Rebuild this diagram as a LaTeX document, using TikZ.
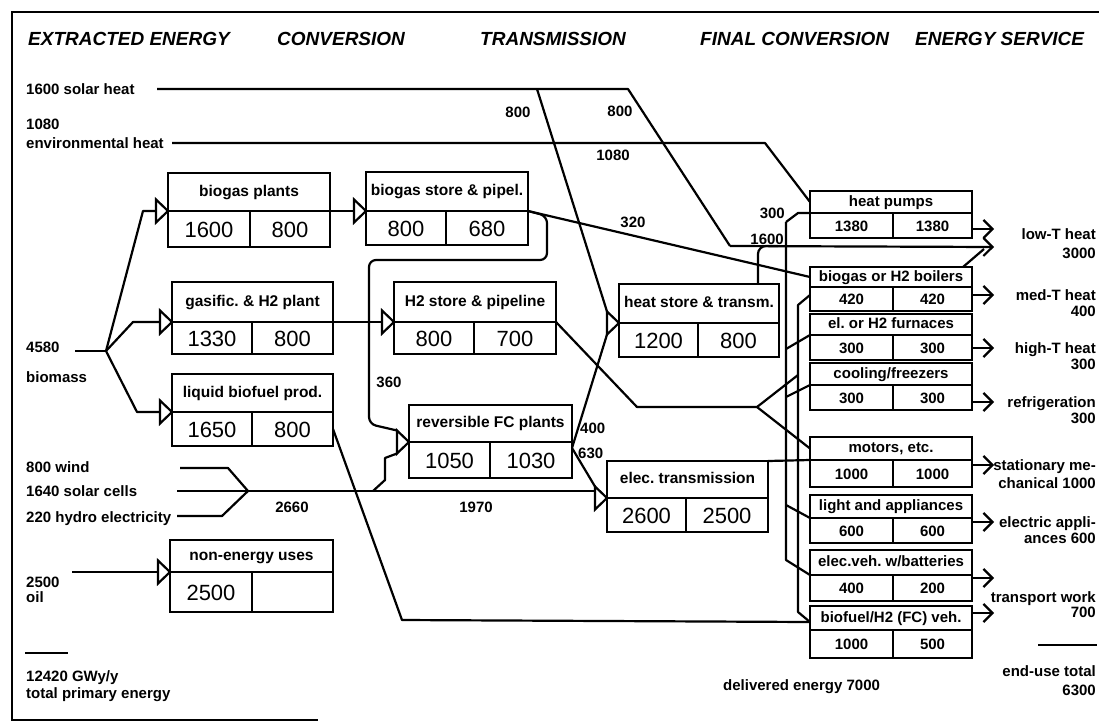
\documentclass[tikz,border=0pt]{standalone}
\usepackage{fontspec}
\setmainfont{Liberation Sans}
\usetikzlibrary{arrows.meta,calc}
\frenchspacing
\begin{document}
\begin{tikzpicture}[x=1pt,y=-1pt,
  conn/.style={line width=2.2pt, line join=round},
  frame/.style={line width=2.6pt},
  hdr/.style={font=\fontsize{19}{22}\selectfont\bfseries\itshape, anchor=west, inner sep=0},
  lbl/.style={font=\fontsize{15}{18}\selectfont\bfseries, inner sep=0, text height=11pt, text depth=0pt},
  lblw/.style={lbl, anchor=west},
  lble/.style={lbl, anchor=east},
  lblc/.style={lbl},
  cell/.style={draw, line width=2.4pt, inner sep=0, outer sep=0, anchor=north west},
  ttl/.style={cell, font=\fontsize{15.5}{18}\selectfont\bfseries, text height=11pt, text depth=3pt},
  rttl/.style={cell, font=\fontsize{15}{18}\selectfont\bfseries, text height=11pt, text depth=3pt},
  bignum/.style={cell, font=\fontsize{22}{26}\selectfont, text height=16pt, text depth=0pt},
  smallnum/.style={cell, font=\fontsize{15}{18}\selectfont\bfseries, text height=11pt, text depth=0pt},
  outarrow/.style={conn, -{Straight Barb[length=9pt,width=18pt,line width=2.2pt]}},
  intri/.pic={\draw[line width=2.2pt, fill=white, line join=miter] (-12,-11.5) -- (0,0) -- (-12,11.5) -- cycle;
     \coordinate (-back) at (-12,0); \coordinate (-top) at (-12,-11.5); \coordinate (-bot) at (-12,11.5);}
]
\useasboundingbox (0,0) rectangle (1099,723);
% frame
\draw[frame] (1099,12) -- (12,12) -- (12,720) -- (318,720);
% headers
\node[hdr] (h1) at (28,39) {EXTRACTED ENERGY};
\node[hdr] (h2) at (277,39) {CONVERSION};
\node[hdr] (h3) at (480,39) {TRANSMISSION};
\node[hdr] (h4) at (700,39) {FINAL CONVERSION};
\node[hdr] (h5) at (915,39) {ENERGY SERVICE};

% left-hand boxes
\foreach \n/\xa/\xd/\xb/\ya/\ym/\yb/\t/\va/\vb in {
  bp/168/250/330/173/211/247/{biogas plants}/1600/800,
  bs/366/446/528/172/211/245/{biogas store \& pipel.}/800/680,
  gh/172/252/333/282/322/354/{gasific. \& H2 plant}/1330/800,
  hs/394/474/556/282/322/354/{H2 store \& pipeline}/800/700,
  lb/172/252/333/374/412/446/{liquid biofuel prod.}/1650/800,
  fc/409/490/572/405/442/478/{reversible FC plants}/1050/1030,
  ht/619/698/779/284/323/357/{heat store \& transm.}/1200/800,
  et/607/686/768/461/498/532/{elec. transmission}/2600/2500,
  ne/170/252/333/540/572/612/{non-energy uses}/2500/{}}{
  \node[ttl, minimum width={(\xb-\xa)*1pt}, minimum height={(\ym-\ya)*1pt}] (\n) at (\xa,\ya) {\t};
  \node[bignum, minimum width={(\xd-\xa)*1pt}, minimum height={(\yb-\ym)*1pt}] (\n-a) at (\xa,\ym) {\va};
  \node[bignum, minimum width={(\xb-\xd)*1pt}, minimum height={(\yb-\ym)*1pt}] (\n-b) at (\xd,\ym) {\vb};
}
% final conversion boxes
\foreach \n/\ya/\ym/\yb/\t/\va/\vb in {
  hp/191/213/238/{heat pumps}/1380/1380,
  bo/267/287/311/{biogas or H2 boilers}/420/420,
  fu/314/335/360/{el. or H2 furnaces}/300/300,
  cf/363/385/410/{cooling/freezers}/300/300,
  mo/437/460/487/{motors, etc.}/1000/1000,
  la/495/518/543/{light and appliances}/600/600,
  ev/550/575/601/{elec.veh. w/batteries}/400/200,
  bv/606/630/658/{biofuel/H2 (FC) veh.}/1000/500}{
  \node[rttl, minimum width=162pt, minimum height={(\ym-\ya)*1pt}] (\n) at (810,\ya) {\t};
  \node[smallnum, minimum width=83pt, minimum height={(\yb-\ym)*1pt}] (\n-a) at (810,\ym) {\va};
  \node[smallnum, minimum width=79pt, minimum height={(\yb-\ym)*1pt}] (\n-b) at (893,\ym) {\vb};
}

% input triangles
\pic (bpin) at (bp.south west) {intri};
\pic (bsin) at (bs.south west) {intri};
\pic (ghin) at (gh.south west) {intri};
\pic (hsin) at (hs.south west) {intri};
\pic (lbin) at (lb.south west) {intri};
\pic (fcin) at (fc.south west) {intri};
\pic (htin) at (ht.south west) {intri};
\pic (etin) at (et.south west) {intri};
\pic (nein) at (ne.south west) {intri};

% left labels
\node[lblw] (lsh) at (26,89) {1600 solar heat};
\node[lblw] (leh1) at (26,124) {1080};
\node[lblw] (leh2) at (26,143) {environmental heat};
\node[lblw] (lbm1) at (26,347) {4580};
\node[lblw] (lbm2) at (26,377) {biomass};
\node[lblw] (lwi) at (26,467) {800 wind};
\node[lblw] (lsc) at (26,491) {1640 solar cells};
\node[lblw] (lhy) at (26,517) {220 hydro electricity};
\node[lblw] (loi1) at (26,582) {2500};
\node[lblw] (loi2) at (26,597) {oil};
\coordinate (tl1) at (25,653); \coordinate (tl2) at (68,653);
\draw[conn] (tl1) -- (tl2);
\node[lblw] (ltot1) at (26,676) {12420 GWy/y};
\node[lblw] (ltot2) at (26,693) {total primary energy};
\node[lblw] (ldel) at (723,685) {delivered energy 7000};

% right labels
\node[lble] (r1a) at (1096,234) {low-T heat};
\node[lble] (r1b) at (1096,253) {3000};
\node[lble] (r2a) at (1096,295) {med-T heat};
\node[lble] (r2b) at (1096,311) {400};
\node[lble] (r3a) at (1096,348) {high-T heat};
\node[lble] (r3b) at (1096,364) {300};
\node[lble] (r4a) at (1096,402) {refrigeration};
\node[lble] (r4b) at (1096,418) {300};
\node[lble] (r5a) at (1096,465) {stationary me-};
\node[lble] (r5b) at (1096,483) {chanical 1000};
\node[lble] (r6a) at (1096,522) {electric appli-};
\node[lble] (r6b) at (1096,538) {ances 600};
\node[lble] (r7a) at (1096,597) {transport work};
\node[lble] (r7b) at (1096,612) {700};
\coordinate (rl1) at (1038,645); \coordinate (rl2) at (1097,645);
\draw[conn] (rl1) -- (rl2);
\node[lble] (r8a) at (1096,671) {end-use total};
\node[lble] (r8b) at (1096,690) {6300};

% flow labels
\node[lblc] (f800a) at (518,112) {800};
\node[lblc] (f800b) at (620,111) {800};
\node[lblc] (f1080) at (613,155) {1080};
\node[lblc] (f320) at (633,222) {320};
\node[lble] (f300) at (785,213) {300};
\node[lble] (f1600) at (784,239) {1600};
\node[lblc] (f360) at (389,382) {360};
\node[lblw] (f400) at (580,428) {400};
\node[lblw] (f630) at (578,453) {630};
\node[lblc] (f2660) at (292,507) {2660};
\node[lblc] (f1970) at (476,507) {1970};

% solar heat
\coordinate (shS) at (157,89);
\coordinate (shA) at (537,89);
\coordinate (shB) at (628,89);
\coordinate (shC) at (730,246);
\coordinate (oLT2) at (994,247);
\draw[conn] (shS) -- (shB) -- (shC);
\draw[outarrow] (shC) -- (oLT2);
\draw[conn] (shA) -- (htin-top);
\draw[conn, rounded corners=8pt] ($(ht.north west)+(139,0)$) -- (758,246) -- (778,246);
% environmental heat
\coordinate (ehS) at (172,143);
\coordinate (ehA) at (765,143);
\draw[conn] (ehS) -- (ehA) -- (hp.west);
% biomass
\coordinate (bmS) at (75,351);
\coordinate (bmJ) at (106,351);
\draw[conn] (bmS) -- (bmJ);
\draw[conn] (bmJ) -- (143,211) -- (bpin-back);
\draw[conn] (bmJ) -- (133,322) -- (ghin-back);
\draw[conn] (bmJ) -- (137,412) -- (lbin-back);
\draw[conn] (bp.south east) -- (bsin-back);
\draw[conn] (gh.south east) -- (hsin-back);
% biogas store outputs
\draw[conn] (bs.south east) -- (bo.west);
\draw[conn, rounded corners=7pt] (bs.south east) -- (547,216) -- (547,260) -- (369,260) -- (369,424) -- (fcin-top);
% H2 store output
\coordinate (h2J) at (757,407);
\draw[conn] (hs.south east) -- (637,407) -- (h2J);
\draw[conn] (h2J) -- (798,375);
\draw[conn] (h2J) -- (mo.west);
% FC plant outputs
\coordinate (fcO) at ($(fc.south east)+(0,6)$);
\draw[conn] (fcO) -- (htin-bot);
\draw[conn] (fcO) -- (etin-top);
% electricity sources
\coordinate (wS) at (180,468);
\coordinate (scS) at (177,491);
\coordinate (hyS) at (177,516);
\coordinate (eJ) at (248,491);
\draw[conn] (wS) -- (228,468) -- (eJ);
\draw[conn] (scS) -- (eJ);
\draw[conn] (hyS) -- (222,516) -- (eJ);
\draw[conn] (eJ) -- ($(etin-back)+(0,-7)$);
\draw[conn] (373,491) -- (385,480) -- (385,458) -- (fcin-bot);
% liquid biofuel
\coordinate (bvIn) at (810,622);
\draw[conn] (lb-b.east) -- (402,620) -- (bvIn);
% oil
\coordinate (oilS) at (72,572);
\draw[conn] (oilS) -- (nein-back);
% electricity distribution
\draw[conn] (et.north east) -- (mo.south west);
\coordinate (bE1) at (786,222);
\coordinate (bE2) at (786,560);
\draw[conn] (bE1) -- (798,213) -- (hp.south west);
\draw[conn] (bE1) -- (bE2) -- (ev.south west);
\draw[conn] (786,349) -- (fu.south west);
\draw[conn] (786,397) -- (cf.south west);
\draw[conn] (786,505) -- (la.south west);
% H2 / fuel distribution
\draw[conn] ($(bo.south west)+(0,8)$) -- (798,305) -- (798,612) -- (bvIn);
\draw[conn] ($(bo.north east)+(-9,0)$) -- (984,249);
% service outputs
\coordinate (oLT1) at (994,229);
\coordinate (oMT) at (994,295);
\coordinate (oHT) at (994,348);
\coordinate (oRF) at (994,402);
\coordinate (oSM) at (994,465);
\coordinate (oEA) at (994,522);
\coordinate (oTR1) at (994,578);
\coordinate (oTR2) at (994,613);
\draw[outarrow] ($(hp.south east)+(0,16)$) -- (oLT1);
\draw[outarrow] ($(bo.south east)+(0,8)$) -- (oMT);
\draw[outarrow] ($(fu.south east)+(0,13)$) -- (oHT);
\draw[outarrow] ($(cf.south east)+(0,17)$) -- (oRF);
\draw[outarrow] ($(mo.south east)+(0,5)$) -- (oSM);
\draw[outarrow] ($(la.south east)+(0,4)$) -- (oEA);
\draw[outarrow] ($(ev.south east)+(0,3)$) -- (oTR1);
\draw[outarrow] ($(bv.north east)+(0,7)$) -- (oTR2);
\end{tikzpicture}
\end{document}
